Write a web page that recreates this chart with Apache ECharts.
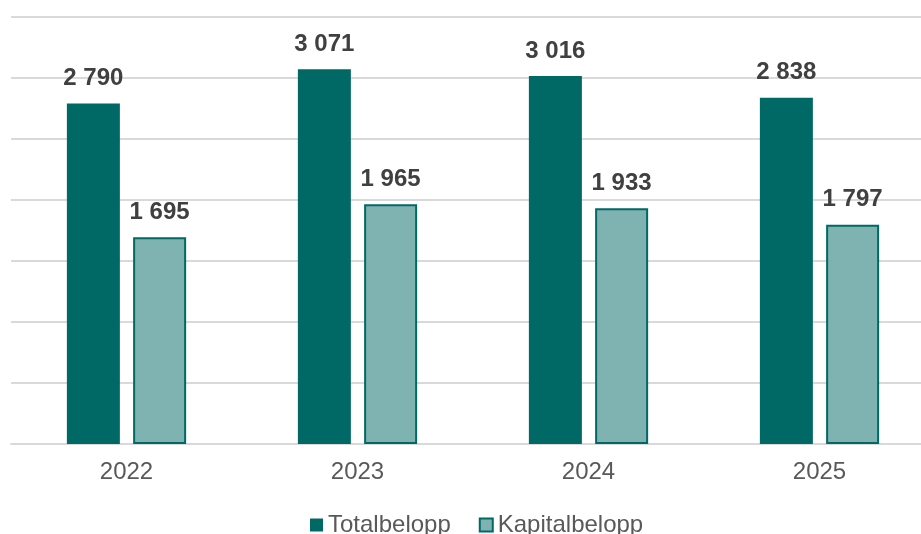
<!DOCTYPE html>
<html>
<head>
<meta charset="utf-8">
<script src="https://cdn.jsdelivr.net/npm/echarts@6/dist/echarts.min.js"></script>
<style>
  html, body { margin: 0; padding: 0; background: #fff; }
  #chart { width: 921px; height: 534px; }
</style>
</head>
<body>
<div id="chart"></div>
<script>
const years = ['2022', '2023', '2024', '2025'];
const totalbelopp = [2790, 3071, 3016, 2838];
const kapitalbelopp = [1695, 1965, 1933, 1797];
const seriesNames = ['Totalbelopp', 'Kapitalbelopp'];

const fmt = v => String(v).replace(/\B(?=(\d{3})+(?!\d))/g, ' ');
const FONT = 'Liberation Sans, Arial, sans-serif';

const chart = echarts.init(document.getElementById('chart'));
const labelStyle = {
  show: true,
  position: 'top',
  distance: 13,
  fontFamily: FONT,
  fontSize: 24,
  fontWeight: 'bold',
  color: '#404040',
  formatter: p => fmt(p.value)
};

chart.setOption({
  animation: false,
  // plot area runs a little past the right edge, so the last category is partly clipped
  grid: { left: 11, width: 924, top: 17, bottom: 90, containLabel: false, outerBoundsMode: 'none' },
  legend: {
    top: 513,
    left: 310,
    padding: 0,
    itemWidth: 13,
    itemHeight: 13,
    itemGap: 28,
    icon: 'rect',
    textStyle: { fontFamily: FONT, fontSize: 24, color: '#595959' },
    data: seriesNames
  },
  xAxis: {
    type: 'category',
    data: years,
    axisLine: { show: true, lineStyle: { color: '#d9d9d9', width: 2 } },
    axisTick: { show: false },
    axisLabel: { fontFamily: FONT, fontSize: 24, color: '#595959', margin: 16 }
  },
  yAxis: {
    type: 'value',
    min: 0,
    max: 3500,
    interval: 500,
    axisLabel: { show: false },
    axisLine: { show: false },
    axisTick: { show: false },
    splitLine: { lineStyle: { color: '#d9d9d9', width: 2 } }
  },
  series: [
    {
      name: seriesNames[0],
      type: 'bar',
      data: totalbelopp,
      barWidth: 53,
      barGap: '25%',
      itemStyle: { color: '#006966' },
      label: labelStyle
    },
    {
      name: seriesNames[1],
      type: 'bar',
      data: kapitalbelopp,
      barWidth: 53,
      itemStyle: { color: '#7fb3b2', borderColor: '#006966', borderWidth: 2 },
      label: labelStyle
    }
  ]
});
</script>
</body>
</html>
